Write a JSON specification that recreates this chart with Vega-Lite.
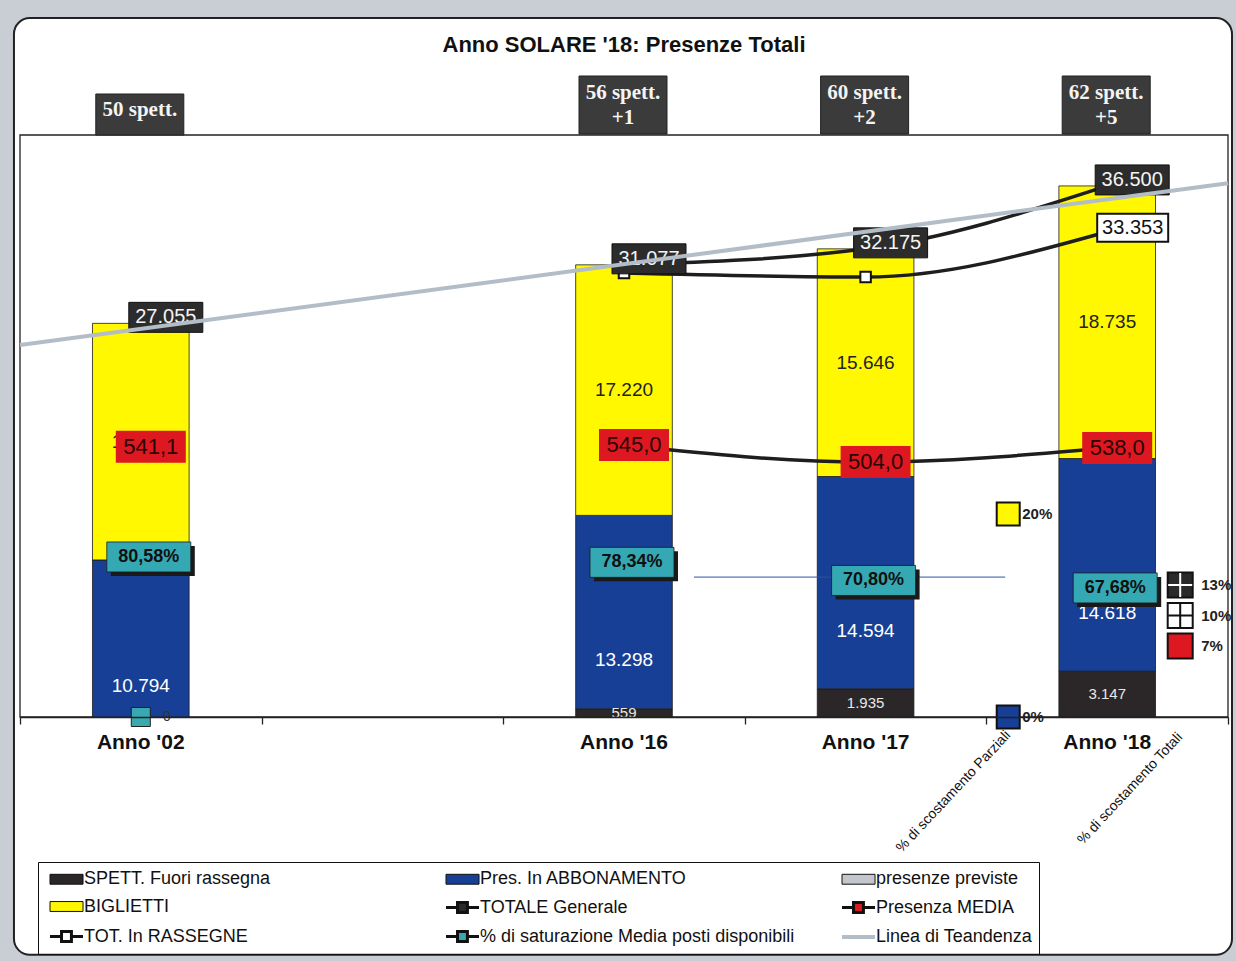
{
  "$schema": "https://vega.github.io/schema/vega-lite/v6.json",
  "width": 1208,
  "height": 582,
  "autosize": {"type": "none"},
  "padding": {"left": 20, "top": 135, "right": 8, "bottom": 244},
  "background": "#c8ced3",
  "title": {"text": "Anno SOLARE '18: Presenze Totali", "font": "Liberation Sans", "fontSize": 22, "fontWeight": "bold", "color": "#111111", "anchor": "middle", "baseline": "alphabetic", "offset": -57, "zindex": 1},
  "config": {
    "view": {"stroke": null, "fill": null},
    "locale": {"number": {"decimal": ",", "thousands": ".", "grouping": [3], "currency": ["", " €"]}},
    "text": {"font": "Liberation Sans"}
  },
  "datasets": {
    "anni": [
      {"anno": "Anno '02", "totale": 27055, "rassegne": 27055, "media": 541.1, "saturazione": 0.8058, "spett": "50 spett."},
      {"anno": "Anno '16", "totale": 31077, "rassegne": 30518, "media": 545.0, "saturazione": 0.7834, "spett": "56 spett.\n+1"},
      {"anno": "Anno '17", "totale": 32175, "rassegne": 30240, "media": 504.0, "saturazione": 0.7080, "spett": "60 spett.\n+2"},
      {"anno": "Anno '18", "totale": 36500, "rassegne": 33353, "media": 538.0, "saturazione": 0.6768, "spett": "62 spett.\n+5"}
    ],
    "segmenti": [
      {"anno": "Anno '02", "serie": "SPETT. Fuori rassegna", "valore": 0},
      {"anno": "Anno '02", "serie": "Pres. In ABBONAMENTO", "valore": 10794},
      {"anno": "Anno '02", "serie": "BIGLIETTI", "valore": 16261},
      {"anno": "Anno '16", "serie": "SPETT. Fuori rassegna", "valore": 559},
      {"anno": "Anno '16", "serie": "Pres. In ABBONAMENTO", "valore": 13298},
      {"anno": "Anno '16", "serie": "BIGLIETTI", "valore": 17220},
      {"anno": "Anno '17", "serie": "SPETT. Fuori rassegna", "valore": 1935},
      {"anno": "Anno '17", "serie": "Pres. In ABBONAMENTO", "valore": 14594},
      {"anno": "Anno '17", "serie": "BIGLIETTI", "valore": 15646},
      {"anno": "Anno '18", "serie": "SPETT. Fuori rassegna", "valore": 3147},
      {"anno": "Anno '18", "serie": "Pres. In ABBONAMENTO", "valore": 14618},
      {"anno": "Anno '18", "serie": "BIGLIETTI", "valore": 18735}
    ],
    "scostamenti": [
      {"gruppo": "Parziali", "serie": "BIGLIETTI", "pct": 0.20},
      {"gruppo": "Parziali", "serie": "Pres. In ABBONAMENTO", "pct": 0.0},
      {"gruppo": "Totali", "serie": "TOTALE Generale", "pct": 0.13},
      {"gruppo": "Totali", "serie": "TOT. In RASSEGNE", "pct": 0.10},
      {"gruppo": "Totali", "serie": "Presenza MEDIA", "pct": 0.07}
    ],
    "titoli": [
      {"gruppo": "Parziali", "titolo": "% di scostamento Parziali"},
      {"gruppo": "Totali", "titolo": "% di scostamento Totali"}
    ],
    "tendenza": [
      {"t": 0, "valore": 25560},
      {"t": 5, "valore": 36690}
    ],
    "zero": [
      {"anno": "Anno '02", "valore": 0}
    ]
  },
  "layer": [
    {
      "data": {"values": [{}]},
      "layer": [
        {
          "mark": {"type": "rect", "cornerRadius": 16, "fill": "#ffffff", "stroke": "#222222", "strokeWidth": 2},
          "encoding": {
            "x": {"datum": -0.025, "type": "quantitative", "scale": {"domain": [0, 5], "nice": false, "zero": false}, "axis": null},
            "x2": {"datum": 5.0166},
            "y": {"datum": -16346, "type": "quantitative", "scale": {"domain": [0, 40000], "nice": false}, "axis": null},
            "y2": {"datum": 48036}
          }
        },
        {
          "mark": {"type": "rect", "fill": "transparent", "stroke": "#222222", "strokeWidth": 1.3},
          "encoding": {
            "x": {"datum": 0, "type": "quantitative", "scale": {"domain": [0, 5], "nice": false, "zero": false}, "axis": null},
            "x2": {"datum": 5},
            "y": {"datum": 0, "type": "quantitative", "scale": {"domain": [0, 40000], "nice": false}, "axis": null},
            "y2": {"datum": 40000}
          }
        }
      ]
    },
    {
      "layer": [
        {
          "layer": [
            {
              "data": {"name": "segmenti"},
              "mark": {"type": "bar", "stroke": "#1a1a1a", "strokeWidth": 0.8},
              "encoding": {
                "x": {"field": "anno", "type": "nominal", "title": null,
                  "scale": {"domain": ["Anno '02", " ", "Anno '16", "Anno '17", "Anno '18"], "paddingInner": 0.6, "paddingOuter": 0.3},
                  "axis": {"ticks": false, "labelAngle": 0, "domainColor": "#222222", "domainWidth": 1.5, "labelFont": "Liberation Sans", "labelFontSize": 21, "labelFontWeight": "bold", "labelColor": "#111111", "labelPadding": 14, "grid": false, "zindex": 1}},
                "y": {"field": "valore", "type": "quantitative", "stack": "zero", "scale": {"domain": [0, 40000], "nice": false}, "axis": null},
                "color": {
                  "field": "serie", "type": "nominal",
                  "scale": {
                    "domain": ["SPETT. Fuori rassegna", "Pres. In ABBONAMENTO", "presenze previste", "BIGLIETTI", "TOTALE Generale", "Presenza MEDIA", "TOT. In RASSEGNE", "% di saturazione Media posti disponibili", "Linea di Teandenza"],
                    "range": ["#2b2627", "#173f95", "#c3c7cc", "#fff800", "#2a2a2a", "#dd1820", "#ffffff", "#35a9b3", "#b3bdc8"]
                  },
                  "legend": {
                    "title": null, "orient": "none", "legendX": 18, "legendY": 727, "zindex": 1,
                    "direction": "horizontal", "columns": 3, "columnPadding": 39, "rowPadding": 6, "gridAlign": "all",
                    "padding": 6, "symbolOffset": 4, "strokeColor": "#111111", "symbolOpacity": 1,
                    "symbolSize": 324, "labelFont": "Liberation Sans", "labelFontSize": 18, "labelColor": "#111111", "labelOffset": 14, "labelLimit": 400
                  }
                },
                "order": {"field": "serie", "type": "nominal", "sort": "descending"}
              }
            },
            {
              "data": {"name": "segmenti"},
              "mark": {"type": "point", "filled": true, "opacity": 0, "size": 1},
              "encoding": {
                "x": {"field": "anno", "type": "nominal", "title": null},
                "y": {"field": "valore", "type": "quantitative", "scale": {"domain": [0, 40000], "nice": false}, "axis": null},
                "color": {"field": "serie", "type": "nominal"},
                "shape": {"field": "serie", "type": "nominal",
                  "scale": {
                    "domain": ["SPETT. Fuori rassegna", "Pres. In ABBONAMENTO", "presenze previste", "BIGLIETTI", "TOTALE Generale", "Presenza MEDIA", "TOT. In RASSEGNE", "% di saturazione Media posti disponibili", "Linea di Teandenza"],
                    "range": ["M-1,-0.55H2.67V0.55H-1Z", "M-1,-0.55H2.67V0.55H-1Z", "M-1,-0.55H2.67V0.55H-1Z", "M-1,-0.55H2.67V0.55H-1Z", "M-1,0H0.28M1.38,0H2.67M0.28,-0.55H1.38V0.55H0.28Z", "M-1,0H0.28M1.38,0H2.67M0.28,-0.55H1.38V0.55H0.28Z", "M-1,0H0.28M1.38,0H2.67M0.28,-0.55H1.38V0.55H0.28Z", "M-1,0H0.28M1.38,0H2.67M0.28,-0.55H1.38V0.55H0.28Z", "M-1,0H2.67"]
                  }},
                "stroke": {"field": "serie", "type": "nominal",
                  "scale": {
                    "domain": ["SPETT. Fuori rassegna", "Pres. In ABBONAMENTO", "presenze previste", "BIGLIETTI", "TOTALE Generale", "Presenza MEDIA", "TOT. In RASSEGNE", "% di saturazione Media posti disponibili", "Linea di Teandenza"],
                    "range": ["#111111", "#111111", "#111111", "#111111", "#111111", "#111111", "#111111", "#111111", "#b3bdc8"]
                  }},
                "strokeWidth": {"field": "serie", "type": "nominal",
                  "scale": {
                    "type": "ordinal",
                    "domain": ["SPETT. Fuori rassegna", "Pres. In ABBONAMENTO", "presenze previste", "BIGLIETTI", "TOTALE Generale", "Presenza MEDIA", "TOT. In RASSEGNE", "% di saturazione Media posti disponibili", "Linea di Teandenza"],
                    "range": [1, 1, 1, 1, 3, 3, 3, 3, 4]
                  }}
              }
            },
            {
              "data": {"name": "segmenti"},
              "mark": {"type": "text", "fontSize": 15, "color": "#e8e8e8", "baseline": "middle"},
              "encoding": {
                "x": {"field": "anno", "type": "nominal", "title": null},
                "y": {"field": "valore", "type": "quantitative", "stack": "zero", "bandPosition": 0.5, "scale": {"domain": [0, 40000], "nice": false}, "axis": null},
                "detail": {"field": "serie", "type": "nominal"},
                "order": {"field": "serie", "type": "nominal", "sort": "descending"},
                "text": {"condition": {"test": "datum.serie === 'SPETT. Fuori rassegna' && datum.valore > 0", "field": "valore", "type": "quantitative", "format": ",d"}, "value": ""}
              }
            },
            {
              "data": {"name": "segmenti"},
              "mark": {"type": "text", "fontSize": 19, "color": "#ffffff", "baseline": "middle", "dy": 48},
              "encoding": {
                "x": {"field": "anno", "type": "nominal", "title": null},
                "y": {"field": "valore", "type": "quantitative", "stack": "zero", "bandPosition": 0.5, "scale": {"domain": [0, 40000], "nice": false}, "axis": null},
                "detail": {"field": "serie", "type": "nominal"},
                "order": {"field": "serie", "type": "nominal", "sort": "descending"},
                "text": {"condition": {"test": "datum.serie === 'Pres. In ABBONAMENTO'", "field": "valore", "type": "quantitative", "format": ",d"}, "value": ""}
              }
            },
            {
              "data": {"name": "segmenti"},
              "mark": {"type": "text", "fontSize": 19, "color": "#222222", "baseline": "middle"},
              "encoding": {
                "x": {"field": "anno", "type": "nominal", "title": null},
                "y": {"field": "valore", "type": "quantitative", "stack": "zero", "bandPosition": 0.5, "scale": {"domain": [0, 40000], "nice": false}, "axis": null},
                "detail": {"field": "serie", "type": "nominal"},
                "order": {"field": "serie", "type": "nominal", "sort": "descending"},
                "text": {"condition": {"test": "datum.serie === 'BIGLIETTI'", "field": "valore", "type": "quantitative", "format": ",d"}, "value": ""}
              }
            },
            {
              "data": {"name": "zero"},
              "mark": {"type": "point", "shape": "square", "filled": true, "size": 361, "fill": "#3aa8b0", "stroke": "#222222", "strokeWidth": 1, "opacity": 1},
              "encoding": {
                "x": {"field": "anno", "type": "nominal", "title": null},
                "y": {"field": "valore", "type": "quantitative", "scale": {"domain": [0, 40000], "nice": false}, "axis": null}
              }
            },
            {
              "data": {"name": "zero"},
              "mark": {"type": "text", "fontSize": 14, "color": "#333333", "baseline": "middle", "dx": 26},
              "encoding": {
                "x": {"field": "anno", "type": "nominal", "title": null},
                "y": {"field": "valore", "type": "quantitative", "scale": {"domain": [0, 40000], "nice": false}, "axis": null},
                "text": {"field": "valore", "type": "quantitative", "format": ",d"}
              }
            },
            {
              "data": {"name": "anni"},
              "transform": [{"filter": "datum.anno !== \"Anno '02\""}],
              "mark": {"type": "line", "color": "#1e1e1e", "strokeWidth": 3.5, "interpolate": "monotone"},
              "encoding": {
                "x": {"field": "anno", "type": "nominal", "title": null},
                "y": {"field": "rassegne", "type": "quantitative", "scale": {"domain": [0, 40000], "nice": false}, "axis": null}
              }
            },
            {
              "data": {"name": "anni"},
              "transform": [{"filter": "datum.anno !== \"Anno '02\""}],
              "mark": {"type": "point", "shape": "square", "filled": true, "size": 110, "fill": "#ffffff", "stroke": "#111111", "strokeWidth": 2, "opacity": 1},
              "encoding": {
                "x": {"field": "anno", "type": "nominal", "title": null},
                "y": {"field": "rassegne", "type": "quantitative", "scale": {"domain": [0, 40000], "nice": false}, "axis": null}
              }
            },
            {
              "data": {"name": "anni"},
              "transform": [{"filter": "datum.anno !== \"Anno '02\""}],
              "mark": {"type": "line", "color": "#1e1e1e", "strokeWidth": 3.5, "interpolate": "monotone"},
              "encoding": {
                "x": {"field": "anno", "type": "nominal", "title": null},
                "y": {"field": "totale", "type": "quantitative", "scale": {"domain": [0, 40000], "nice": false}, "axis": null}
              }
            },
            {
              "data": {"name": "anni"},
              "mark": {"type": "point", "shape": "M-12,-21H62V9H-12Z", "size": 4, "filled": true, "fill": "#2c2c2c", "stroke": "#111111", "strokeWidth": 1, "opacity": 1},
              "encoding": {
                "x": {"field": "anno", "type": "nominal", "title": null},
                "y": {"field": "totale", "type": "quantitative", "scale": {"domain": [0, 40000], "nice": false}, "axis": null}
              }
            },
            {
              "data": {"name": "anni"},
              "mark": {"type": "text", "fontSize": 20, "color": "#f4f4f4", "baseline": "middle", "dx": 25, "dy": -6},
              "encoding": {
                "x": {"field": "anno", "type": "nominal", "title": null},
                "y": {"field": "totale", "type": "quantitative", "scale": {"domain": [0, 40000], "nice": false}, "axis": null},
                "text": {"field": "totale", "type": "quantitative", "format": ",d"}
              }
            },
            {
              "data": {"name": "anni"},
              "transform": [{"filter": "datum.anno === \"Anno '18\""}],
              "mark": {"type": "point", "shape": "M-10,-18H61V10H-10Z", "size": 4, "filled": true, "fill": "#ffffff", "stroke": "#111111", "strokeWidth": 2, "opacity": 1},
              "encoding": {
                "x": {"field": "anno", "type": "nominal", "title": null},
                "y": {"field": "rassegne", "type": "quantitative", "scale": {"domain": [0, 40000], "nice": false}, "axis": null}
              }
            },
            {
              "data": {"name": "anni"},
              "transform": [{"filter": "datum.anno === \"Anno '18\""}],
              "mark": {"type": "text", "fontSize": 20, "color": "#111111", "baseline": "middle", "dx": 25.5, "dy": -4},
              "encoding": {
                "x": {"field": "anno", "type": "nominal", "title": null},
                "y": {"field": "rassegne", "type": "quantitative", "scale": {"domain": [0, 40000], "nice": false}, "axis": null},
                "text": {"field": "rassegne", "type": "quantitative", "format": ",d"}
              }
            },
            {
              "data": {"name": "anni"},
              "mark": {"type": "point", "size": 4, "filled": true, "fill": "#3b3b3b", "stroke": "#222222", "strokeWidth": 1, "opacity": 1, "xOffset": -1},
              "encoding": {
                "x": {"field": "anno", "type": "nominal", "title": null},
                "y": {"datum": 40000, "type": "quantitative", "scale": {"domain": [0, 40000], "nice": false}, "axis": null},
                "shape": {"condition": {"test": "datum.anno === \"Anno '02\"", "value": "M-44,-41H44V0H-44Z"}, "value": "M-44,-59H44V-1H-44Z"}
              }
            },
            {
              "data": {"name": "anni"},
              "transform": [{"filter": "datum.anno === \"Anno '02\""}],
              "mark": {"type": "text", "font": "Liberation Serif", "fontSize": 21, "fontWeight": "bold", "color": "#f4f4f4", "baseline": "middle", "dy": -25, "xOffset": -1},
              "encoding": {
                "x": {"field": "anno", "type": "nominal", "title": null},
                "y": {"datum": 40000, "type": "quantitative", "scale": {"domain": [0, 40000], "nice": false}, "axis": null},
                "text": {"field": "spett", "type": "nominal"}
              }
            },
            {
              "data": {"name": "anni"},
              "transform": [{"filter": "datum.anno !== \"Anno '02\""}],
              "mark": {"type": "text", "font": "Liberation Serif", "fontSize": 21, "fontWeight": "bold", "color": "#f4f4f4", "baseline": "middle", "lineBreak": "\n", "lineHeight": 25, "dy": -42, "xOffset": -1},
              "encoding": {
                "x": {"field": "anno", "type": "nominal", "title": null},
                "y": {"datum": 40000, "type": "quantitative", "scale": {"domain": [0, 40000], "nice": false}, "axis": null},
                "text": {"field": "spett", "type": "nominal"}
              }
            }
          ]
        },
        {
          "data": {"name": "anni"},
          "layer": [
            {
              "transform": [{"filter": "datum.anno !== \"Anno '02\""}],
              "mark": {"type": "line", "color": "#1e1e1e", "strokeWidth": 3.5, "interpolate": "monotone"},
              "encoding": {
                "x": {"field": "anno", "type": "nominal", "title": null},
                "y": {"field": "media", "type": "quantitative", "scale": {"domain": [-111, 1293], "nice": false, "zero": false}, "axis": null}
              }
            },
            {
              "mark": {"type": "point", "shape": "M-25,-16H45V16H-25Z", "size": 4, "filled": true, "fill": "#dd1820", "strokeWidth": 0, "opacity": 1},
              "encoding": {
                "x": {"field": "anno", "type": "nominal", "title": null},
                "y": {"field": "media", "type": "quantitative", "scale": {"domain": [-111, 1293], "nice": false, "zero": false}, "axis": null}
              }
            },
            {
              "mark": {"type": "text", "fontSize": 22, "color": "#2a0505", "baseline": "middle", "dx": 10},
              "encoding": {
                "x": {"field": "anno", "type": "nominal", "title": null},
                "y": {"field": "media", "type": "quantitative", "scale": {"domain": [-111, 1293], "nice": false, "zero": false}, "axis": null},
                "text": {"field": "media", "type": "quantitative", "format": ".1f"}
              }
            }
          ]
        },
        {
          "layer": [
            {
              "data": {"values": [{}]},
              "mark": {"type": "rule", "color": "#2a55a8", "strokeWidth": 1, "xOffset": 70, "x2Offset": -102},
              "encoding": {
                "x": {"datum": "Anno '16"},
                "x2": {"datum": "Anno '18"},
                "y": {"datum": 0.722, "type": "quantitative", "scale": {"domain": [0.139, 2.564], "nice": false, "zero": false}, "axis": null}
              }
            },
            {
              "data": {"name": "anni"},
              "mark": {"type": "point", "shape": "M-30,-11H54V19H-30Z", "size": 4, "filled": true, "fill": "#1a1a1a", "strokeWidth": 0, "opacity": 1},
              "encoding": {
                "x": {"field": "anno", "type": "nominal", "title": null},
                "y": {"field": "saturazione", "type": "quantitative", "scale": {"domain": [0.139, 2.564], "nice": false, "zero": false}, "axis": null}
              }
            },
            {
              "data": {"name": "anni"},
              "mark": {"type": "point", "shape": "M-34,-15H50V15H-34Z", "size": 4, "filled": true, "fill": "#35a9b3", "stroke": "#1a1a1a", "strokeWidth": 0.8, "opacity": 1},
              "encoding": {
                "x": {"field": "anno", "type": "nominal", "title": null},
                "y": {"field": "saturazione", "type": "quantitative", "scale": {"domain": [0.139, 2.564], "nice": false, "zero": false}, "axis": null}
              }
            },
            {
              "data": {"name": "anni"},
              "mark": {"type": "text", "fontSize": 18, "fontWeight": "bold", "color": "#101010", "baseline": "middle", "dx": 8},
              "encoding": {
                "x": {"field": "anno", "type": "nominal", "title": null},
                "y": {"field": "saturazione", "type": "quantitative", "scale": {"domain": [0.139, 2.564], "nice": false, "zero": false}, "axis": null},
                "text": {"field": "saturazione", "type": "quantitative", "format": ".2%"}
              }
            }
          ]
        },
        {
          "layer": [
            {
              "data": {"name": "scostamenti"},
              "transform": [{"filter": "datum.gruppo === 'Parziali'"}],
              "mark": {"type": "point", "shape": "square", "filled": true, "size": 529, "stroke": "#111111", "strokeWidth": 2, "opacity": 1, "xOffset": -99},
              "encoding": {
                "x": {"datum": "Anno '18"},
                "y": {"field": "pct", "type": "quantitative", "scale": {"domain": [0, 0.5734], "nice": false}, "axis": null},
                "color": {"field": "serie", "type": "nominal"}
              }
            },
            {
              "data": {"name": "scostamenti"},
              "transform": [{"filter": "datum.gruppo === 'Parziali'"}],
              "mark": {"type": "text", "fontSize": 15, "fontWeight": "bold", "color": "#222222", "align": "left", "baseline": "middle", "xOffset": -99, "dx": 14},
              "encoding": {
                "x": {"datum": "Anno '18"},
                "y": {"field": "pct", "type": "quantitative", "scale": {"domain": [0, 0.5734], "nice": false}, "axis": null},
                "text": {"field": "pct", "type": "quantitative", "format": ".0%"}
              }
            },
            {
              "data": {"name": "scostamenti"},
              "transform": [{"filter": "datum.gruppo === 'Totali'"}],
              "mark": {"type": "point", "shape": "square", "filled": true, "size": 625, "stroke": "#111111", "strokeWidth": 2, "opacity": 1, "xOffset": 73},
              "encoding": {
                "x": {"datum": "Anno '18"},
                "y": {"field": "pct", "type": "quantitative", "scale": {"domain": [0, 0.5734], "nice": false}, "axis": null},
                "color": {"field": "serie", "type": "nominal"}
              }
            },
            {
              "data": {"name": "scostamenti"},
              "transform": [{"filter": "datum.gruppo === 'Totali' && datum.serie !== 'Presenza MEDIA'"}],
              "mark": {"type": "point", "shape": "M-12,0H12M0,-12V12", "size": 4, "filled": false, "strokeWidth": 2, "opacity": 1, "xOffset": 73},
              "encoding": {
                "x": {"datum": "Anno '18"},
                "y": {"field": "pct", "type": "quantitative", "scale": {"domain": [0, 0.5734], "nice": false}, "axis": null},
                "stroke": {"condition": {"test": "datum.serie === 'TOTALE Generale'", "value": "#ffffff"}, "value": "#111111"}
              }
            },
            {
              "data": {"name": "scostamenti"},
              "transform": [{"filter": "datum.gruppo === 'Totali'"}],
              "mark": {"type": "text", "fontSize": 15, "fontWeight": "bold", "color": "#222222", "align": "left", "baseline": "middle", "xOffset": 73, "dx": 21},
              "encoding": {
                "x": {"datum": "Anno '18"},
                "y": {"field": "pct", "type": "quantitative", "scale": {"domain": [0, 0.5734], "nice": false}, "axis": null},
                "text": {"field": "pct", "type": "quantitative", "format": ".0%"}
              }
            },
            {
              "data": {"name": "titoli"},
              "transform": [{"filter": "datum.gruppo === 'Parziali'"}],
              "mark": {"type": "text", "fontSize": 14, "color": "#111111", "align": "right", "baseline": "middle", "angle": -47, "xOffset": -99},
              "encoding": {
                "x": {"datum": "Anno '18"},
                "y": {"datum": -0.0158, "type": "quantitative", "scale": {"domain": [0, 0.5734], "nice": false}, "axis": null},
                "text": {"field": "titolo", "type": "nominal"}
              }
            },
            {
              "data": {"name": "titoli"},
              "transform": [{"filter": "datum.gruppo === 'Totali'"}],
              "mark": {"type": "text", "fontSize": 14, "color": "#111111", "align": "right", "baseline": "middle", "angle": -47, "xOffset": 73},
              "encoding": {
                "x": {"datum": "Anno '18"},
                "y": {"datum": -0.0177, "type": "quantitative", "scale": {"domain": [0, 0.5734], "nice": false}, "axis": null},
                "text": {"field": "titolo", "type": "nominal"}
              }
            }
          ]
        }
      ],
      "resolve": {"scale": {"y": "independent"}}
    },
    {
      "data": {"name": "tendenza"},
      "mark": {"type": "line", "color": "#b3bdc8", "strokeWidth": 4},
      "encoding": {
        "x": {"field": "t", "type": "quantitative", "scale": {"domain": [0, 5], "nice": false, "zero": false},
          "axis": {"orient": "bottom", "values": [0, 1, 2, 3, 4, 5], "labels": false, "domain": false, "ticks": true, "tickSize": 7, "tickColor": "#222222", "tickWidth": 1.3, "grid": false, "title": null, "zindex": 1}},
        "y": {"field": "valore", "type": "quantitative", "scale": {"domain": [0, 40000], "nice": false}, "axis": null}
      }
    }
  ],
  "resolve": {"scale": {"x": "independent", "y": "independent"}}
}
